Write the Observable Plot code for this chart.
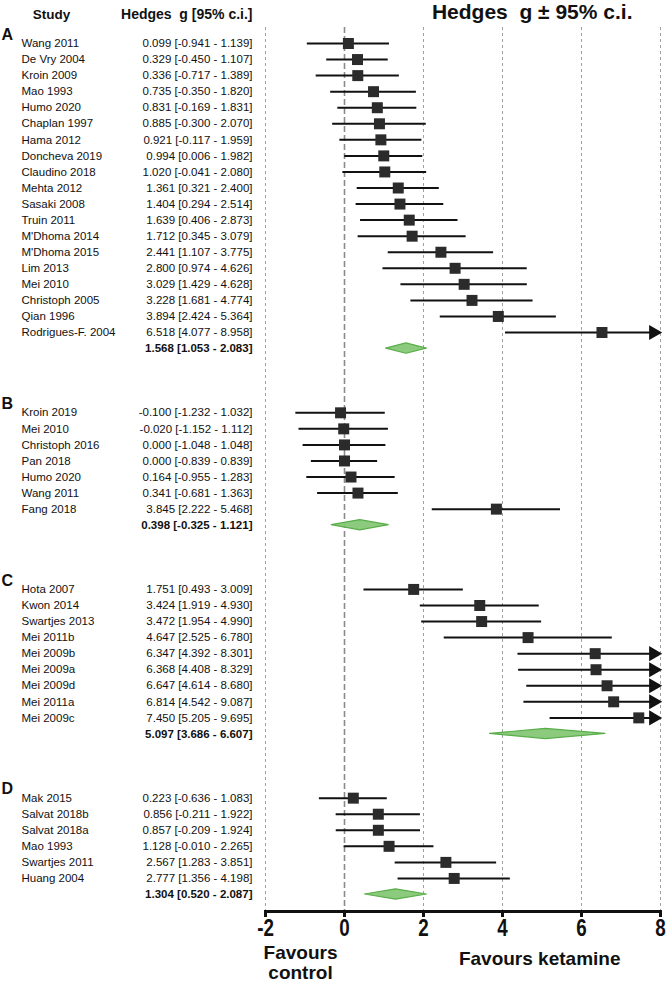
<!DOCTYPE html>
<html>
<head>
<meta charset="utf-8">
<script src="https://cdn.jsdelivr.net/npm/d3@7"></script>
<script src="https://cdn.jsdelivr.net/npm/@observablehq/plot@0.6"></script>
<style>
  body { margin: 0; background: #fff; }
  svg text { white-space: pre; }
  g[aria-label="x-axis tick label"] text {
    font-family: "Liberation Sans", Arial, Helvetica, sans-serif;
    font-weight: bold;
    font-size: 23.5px;
  }
</style>
</head>
<body>
<div id="chart"></div>
<script>
// ---- data ----
const groupLabels = ["A", "B", "C", "D"];

const studyGroup = [
  "A","A","A","A","A","A","A","A","A","A","A","A","A","A","A","A","A","A","A",
  "B","B","B","B","B","B","B",
  "C","C","C","C","C","C","C","C","C",
  "D","D","D","D","D","D"
];
const studyName = [
  "Wang 2011","De Vry 2004","Kroin 2009","Mao 1993","Humo 2020","Chaplan 1997","Hama 2012",
  "Doncheva 2019","Claudino 2018","Mehta 2012","Sasaki 2008","Truin 2011","M'Dhoma 2014",
  "M'Dhoma 2015","Lim 2013","Mei 2010","Christoph 2005","Qian 1996","Rodrigues-F. 2004",
  "Kroin 2019","Mei 2010","Christoph 2016","Pan 2018","Humo 2020","Wang 2011","Fang 2018",
  "Hota 2007","Kwon 2014","Swartjes 2013","Mei 2011b","Mei 2009b","Mei 2009a","Mei 2009d","Mei 2011a","Mei 2009c",
  "Mak 2015","Salvat 2018b","Salvat 2018a","Mao 1993","Swartjes 2011","Huang 2004"
];
const hedgesG = [
  0.099,0.329,0.336,0.735,0.831,0.885,0.921,0.994,1.020,1.361,1.404,1.639,1.712,2.441,2.800,3.029,3.228,3.894,6.518,
  -0.100,-0.020,0.000,0.000,0.164,0.341,3.845,
  1.751,3.424,3.472,4.647,6.347,6.368,6.647,6.814,7.450,
  0.223,0.856,0.857,1.128,2.567,2.777
];
const ciLow = [
  -0.941,-0.450,-0.717,-0.350,-0.169,-0.300,-0.117,0.006,-0.041,0.321,0.294,0.406,0.345,1.107,0.974,1.429,1.681,2.424,4.077,
  -1.232,-1.152,-1.048,-0.839,-0.955,-0.681,2.222,
  0.493,1.919,1.954,2.525,4.392,4.408,4.614,4.542,5.205,
  -0.636,-0.211,-0.209,-0.010,1.283,1.356
];
const ciHigh = [
  1.139,1.107,1.389,1.820,1.831,2.070,1.959,1.982,2.080,2.400,2.514,2.873,3.079,3.775,4.626,4.628,4.774,5.364,8.958,
  1.032,1.112,1.048,0.839,1.283,1.363,5.468,
  3.009,4.930,4.990,6.780,8.301,8.329,8.680,9.087,9.695,
  1.083,1.922,1.924,2.265,3.851,4.198
];
const pooledG    = [1.568, 0.398, 5.097, 1.304];
const pooledLow  = [1.053, -0.325, 3.686, 0.520];
const pooledHigh = [2.083, 1.121, 6.607, 2.087];

const xTicks = [-2, 0, 2, 4, 6, 8];
const titleText = "Hedges  g \u00b1 95% c.i.";
const headerStudy = "Study";
const headerValue = "Hedges  g [95% c.i.]";
const favoursLeft = "Favours\ncontrol";
const favoursRight = "Favours ketamine";

// ---- layout rows ----
const groupGap = 3;
const studies = [], pooled = [], groupHeads = [];
let row = 0;
groupLabels.forEach((grp, gi) => {
  groupHeads.push({ group: grp, row });
  studyName.forEach((name, i) => {
    if (studyGroup[i] === grp) {
      studies.push({ name, g: hedgesG[i], lo: ciLow[i], hi: ciHigh[i], row: row++ });
    }
  });
  pooled.push({ group: grp, g: pooledG[gi], lo: pooledLow[gi], hi: pooledHigh[gi], row: row++ });
  row += groupGap;
});
const lastRow = row - groupGap - 1;
const xMin = xTicks[0], xMax = xTicks[xTicks.length - 1];

const fmt = v => v.toFixed(3);
const ciLabel = d => `${fmt(d.g)} [${fmt(d.lo)} - ${fmt(d.hi)}]`;

const diamondHalf = 0.32;
const diamond = pooled.flatMap(d => [
  { group: d.group, x: d.lo, y1: d.row, y2: d.row },
  { group: d.group, x: d.g, y1: d.row - diamondHalf, y2: d.row + diamondHalf },
  { group: d.group, x: d.hi, y1: d.row, y2: d.row }
]);
const clipped = studies.filter(d => d.hi > xMax);

const chart = Plot.plot({
  width: 666,
  height: 983,
  marginLeft: 265,
  marginRight: 6,
  marginTop: 27,
  marginBottom: 72,
  style: { fontFamily: "'Liberation Sans', Arial, Helvetica, sans-serif", fontSize: "11.5px", color: "#111", background: "#fff" },
  x: { domain: [xMin, xMax], ticks: xTicks, tickFormat: d => String(d) },
  y: { domain: [0, lastRow], range: [43, 894], axis: null },
  marks: [
    Plot.gridX(xTicks.filter(d => d !== 0), { stroke: "#a0a0a0", strokeOpacity: 1, strokeWidth: 1, strokeDasharray: "3,3" }),
    Plot.ruleX([0], { stroke: "#8a8a8a", strokeWidth: 1.6, strokeDasharray: "6,3" }),
    Plot.ruleY(studies, { y: "row", x1: "lo", x2: d => Math.min(d.hi, xMax), stroke: "#111", strokeWidth: 2 }),
    Plot.dot(clipped, { x: d => Math.min(d.hi, xMax), y: "row", symbol: "triangle", rotate: 90, r: 5.6, fill: "#111", stroke: "none", dx: -7 }),
    Plot.dot(studies, { x: "g", y: "row", symbol: "square", r: 6.2, fill: "#2b2b2b", stroke: "none" }),
    Plot.areaY(diamond, { x: "x", y1: "y1", y2: "y2", z: "group", fill: "#86c777", fillOpacity: 0.95, stroke: "#5aae4a", strokeWidth: 1.2, curve: "linear" }),
    // left table
    Plot.text(studies, { y: "row", text: "name", frameAnchor: "left", textAnchor: "start", dx: -244, fill: "#111" }),
    Plot.text(studies, { y: "row", text: ciLabel, frameAnchor: "left", textAnchor: "end", dx: -13, fill: "#111" }),
    Plot.text(pooled, { y: "row", text: ciLabel, frameAnchor: "left", textAnchor: "end", dx: -13, fontWeight: "bold", fill: "#111" }),
    Plot.text(groupHeads, { y: "row", text: "group", frameAnchor: "left", textAnchor: "start", dx: -264, dy: -9, fontSize: 16, fontWeight: "bold", fill: "#111" }),
    // headers and title
    Plot.text([headerStudy], { text: d => d, frameAnchor: "top-left", textAnchor: "middle", lineAnchor: "bottom", dx: -214, dy: -9, fontSize: 13.5, fontWeight: "bold", fill: "#111" }),
    Plot.text([headerValue], { text: d => d, frameAnchor: "top-left", textAnchor: "end", lineAnchor: "bottom", dx: -13, dy: -9, fontSize: 14, fontWeight: "bold", fill: "#111" }),
    Plot.text([titleText], { text: d => d, frameAnchor: "top-right", textAnchor: "end", lineAnchor: "bottom", dx: -28, dy: -9, fontSize: 21, fontWeight: "bold", fill: "#111" }),
    // axis
    Plot.frame({ anchor: "bottom", stroke: "#111", strokeWidth: 3 }),
    Plot.axisX({ ticks: xTicks, tickFormat: d => String(d), tickSize: 6, tickPadding: 2, strokeWidth: 3, stroke: "#111", fill: "#111" }),
    Plot.text([favoursLeft], { text: d => d, frameAnchor: "bottom-left", textAnchor: "middle", lineAnchor: "top", dx: 35, dy: 33, fontSize: 19, fontWeight: "bold", lineHeight: 1.07, fill: "#111" }),
    Plot.text([favoursRight], { text: d => d, frameAnchor: "bottom-right", textAnchor: "end", lineAnchor: "top", dx: -40, dy: 40, fontSize: 19, fontWeight: "bold", fill: "#111" })
  ]
});
// condensed look of the tick numerals (style only)
d3.select(chart).selectAll('g[aria-label="x-axis tick label"] text').each(function () {
  const t = this.getAttribute("transform") || "";
  this.setAttribute("transform", t + " scale(0.8,1)");
});
document.getElementById("chart").appendChild(chart);
</script>
</body>
</html>
